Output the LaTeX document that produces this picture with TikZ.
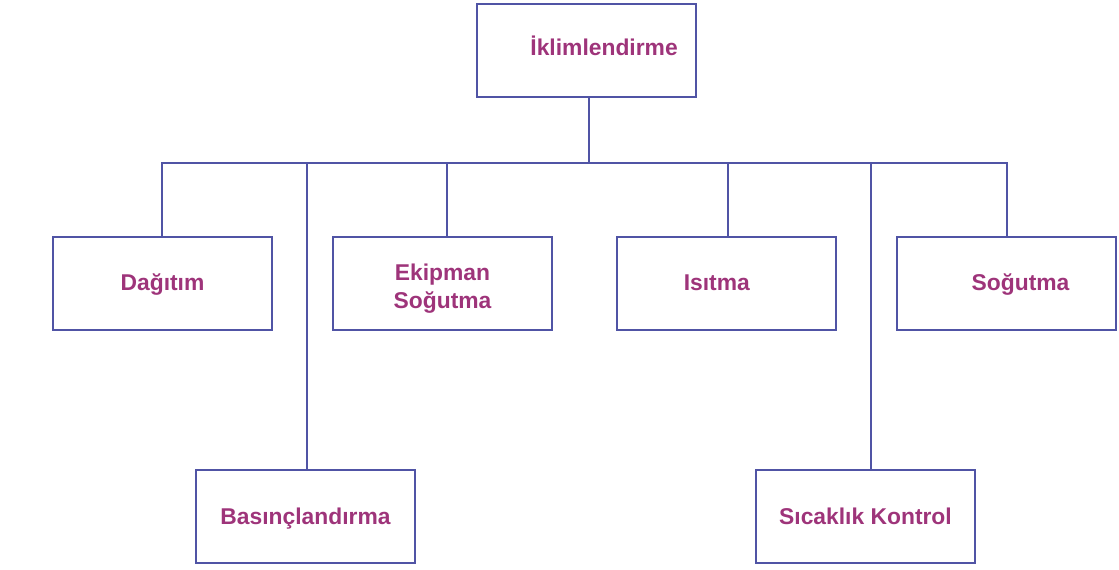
\documentclass[tikz,border=0pt]{standalone}
\usepackage{fontspec}
\setmainfont{Liberation Sans}
\usepackage{tikz}
\usetikzlibrary{positioning}

\definecolor{boxblue}{RGB}{80,84,165}
\definecolor{textplum}{RGB}{158,52,122}

\begin{document}
\begin{tikzpicture}[x=0.02cm, y=-0.02cm]
    \tikzstyle{format} = [draw=boxblue, line width=1.6pt, rectangle,
	minimum width=4.38cm, minimum height=1.86cm, inner sep=0pt,
	font=\fontsize{13}{16}\selectfont\bfseries, text=textplum, align=center,
	text height=11pt, text depth=3pt]
    \tikzstyle{link} = [draw=boxblue, line width=1.6pt]

    \useasboundingbox (0,0) rectangle (1119,570);

		\path
			node[format, text height=9pt] (1) at (586.5,50.5) {\hspace{20pt}İklimlendirme}
			node[format] (2) at (162.5,283.5) {Dağıtım}
			node[format, text height=31.2pt] (3) at (442.5,283.5) {Ekipman\\Soğutma}
			node[format] (4) at (726.5,283.5) {Isıtma\hspace{11pt}}
			node[format] (5) at (1006.5,283.5) {\hspace{16pt}Soğutma}
			node[format, text height=12pt] (6) at (305.5,516.5) {Basınçlandırma}
			node[format, text height=12pt] (7) at (865.5,516.5) {Sıcaklık Kontrol}
		;

		% bus line below the top box
		\coordinate (bus) at (589,163);
		\coordinate (b2) at (162,163);
		\coordinate (b3) at (447,163);
		\coordinate (b4) at (728,163);
		\coordinate (b5) at (1007,163);
		\coordinate (b6) at (307,163);
		\coordinate (b7) at (871,163);

		\draw[link] (1.south -| bus) -- (bus);
		\draw[link, line cap=rect] (b2) -- (b5);
		\draw[link] (b2) -- (b2 |- 2.north);
		\draw[link] (b3) -- (b3 |- 3.north);
		\draw[link] (b4) -- (b4 |- 4.north);
		\draw[link] (b5) -- (b5 |- 5.north);
		\draw[link] (b6) -- (b6 |- 6.north);
		\draw[link] (b7) -- (b7 |- 7.north);

\end{tikzpicture}
\end{document}
